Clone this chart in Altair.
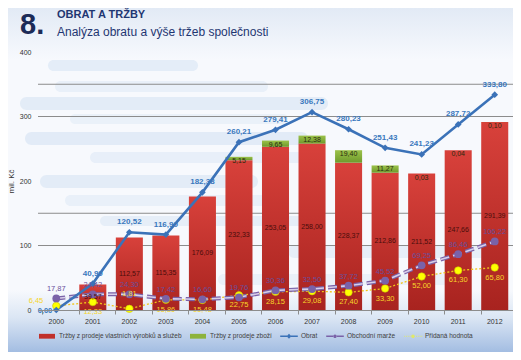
import altair as alt
import pandas as pd

# ---------------- data ----------------
roky = ["2000", "2001", "2002", "2003", "2004", "2005", "2006",
        "2007", "2008", "2009", "2010", "2011", "2012"]
trzby_vyrobky = [0.00, 39.57, 112.57, 115.35, 176.09, 232.33, 253.05,
                 258.00, 228.37, 212.86, 211.52, 247.66, 291.39]
trzby_zbozi = [0.00, 0.00, 0.00, 0.00, 0.00, 5.15, 9.65,
               12.38, 19.40, 11.27, 0.03, 0.04, 0.10]
obrat = [0.00, 40.99, 120.52, 116.90, 182.38, 260.21, 279.41,
         306.75, 280.23, 251.43, 241.23, 287.72, 333.80]
marze = [17.87, 24.42, 24.30, 17.42, 16.60, 19.76, 30.36,
         32.50, 37.72, 45.52, 69.25, 86.46, 106.22]
hodnota = [6.45, 12.33, 1.81, 15.86, 15.48, 22.75, 28.15,
           29.08, 27.40, 33.30, 52.00, 61.30, 65.80]
y_ticks = [0, 50, 100, 150, 200, 250, 300, 350, 400]
grid_lines = [100, 150, 300, 350]

serie = ["Tržby z prodeje vlastních výrobků a služeb", "Tržby z prodeje zboží",
         "Obrat", "Obchodní marže", "Přidaná hodnota"]
barvy = ["#c0302b", "#8db33c", "#3b72b8", "#7a62a8", "#dfe86a"]

df = pd.DataFrame({
    "rok": roky, "vyrobky": trzby_vyrobky, "zbozi": trzby_zbozi,
    "obrat": obrat, "marze": marze, "hodnota": hodnota,
})

NARROW = "'Liberation Sans Narrow', 'Liberation Sans', sans-serif"


def cz(field):
    return f"replace(format(datum.{field}, '.2f'), '.', ',')"


# ---------------- legend symbol paths ----------------
def seg(a, b, h):
    return f"M{a},{-h}H{b}V{h}H{a}Z"


rect_sym = seg(-2, 2, 0.6)
line_l = seg(-2.2, -0.5, 0.16)
line_r = seg(0.5, 2.2, 0.16)
diamond = "M-0.6,0L0,-0.6L0.6,0L0,0.6Z"
circle = "M-0.45,0A0.45,0.45 0 1,0 0.45,0A0.45,0.45 0 1,0 -0.45,0Z"
dots = " ".join(seg(round(-2.2 + i * 0.45, 2), round(-2.2 + i * 0.45 + 0.22, 2), 0.12)
                for i in range(4))
dots += " " + " ".join(seg(round(0.75 + i * 0.45, 2), round(0.75 + i * 0.45 + 0.22, 2), 0.12)
                       for i in range(4))
symboly = [rect_sym, rect_sym, f"{line_l} {line_r} {diamond}",
           f"{line_l} {line_r} {circle}", f"{dots} {circle}"]

# ---------------- encodings ----------------
x_enc = alt.X("rok:N", sort=roky, title=None,
              scale=alt.Scale(paddingInner=0.26, paddingOuter=0.13),
              axis=alt.Axis(labelAngle=0, labelFontSize=7, labelColor="#333333",
                            bandPosition=0, tickSize=4, tickColor="#8c8c8c",
                            domainColor="#8c8c8c", labelPadding=3, zindex=1,
                            labelFont="Liberation Sans"))
y_scale = alt.Scale(domain=[0, 400], nice=False)
y_axis = alt.Axis(values=y_ticks, grid=False, domain=False, ticks=False,
                  labelFontSize=7, labelColor="#333333", zindex=1,
                  labelPadding=7, title="mil. Kč", titleFontSize=8,
                  titleFontWeight="normal", titleColor="#333333", titlePadding=4)

base = alt.Chart(df).encode(x=x_enc)
one = alt.Data(values=[{"a": 1}])

# background
bg = alt.Chart(one).mark_rect(
    color=alt.Gradient(gradient="linear", x1=0, y1=0, x2=0, y2=1, stops=[
        alt.GradientStop(offset=0, color="#e2eaf5"),
        alt.GradientStop(offset=0.15, color="#f7f9fd"),
        alt.GradientStop(offset=0.82, color="#f7f9fd"),
        alt.GradientStop(offset=0.9, color="#dbe6f4"),
        alt.GradientStop(offset=1, color="#a3bde2"),
    ])
).encode(x=alt.value(-30), x2=alt.value(475), y=alt.value(-44), y2=alt.value(300))

# decorative light-blue stripes (background ornament): x1, x2, y_top, height, colour
stripe_specs = [
    (10, 160, 8, 11, "#e4edf8"),
    (17, 230, 29, 11, "#e9f0f9"),
    (-18, 290, 45, 13, "#e3ecf7"),
    (32, 250, 62, 10, "#eaf1f9"),
    (-13, 270, 80, 13, "#e2ebf7"),
    (52, 270, 100, 11, "#e8eff9"),
    (2, 220, 123, 13, "#e3ecf7"),
    (27, 240, 143, 11, "#e9f0f9"),
    (62, 270, 164, 10, "#e6eef8"),
    (250, 470, 193, 13, "#e7eef8"),
    (180, 420, 222, 11, "#eaf1f9"),
]
stripes = [
    alt.Chart(one).mark_rect(color=c, cornerRadius=h / 2).encode(
        x=alt.value(x1), x2=alt.value(x2), y=alt.value(y0), y2=alt.value(y0 + h))
    for (x1, x2, y0, h, c) in stripe_specs
]

grid = alt.Chart(pd.DataFrame({"g": grid_lines})).mark_rule(
    color="#8c8c8c", strokeWidth=1).encode(y=alt.Y("g:Q", scale=y_scale))

red_bars = base.mark_bar(
    color=alt.Gradient(gradient="linear", x1=0, y1=0, x2=0, y2=1, stops=[
        alt.GradientStop(offset=0, color="#d8413b"),
        alt.GradientStop(offset=1, color="#a8231f"),
    ])
).encode(y=alt.Y("vyrobky:Q", scale=y_scale, axis=y_axis))

green_bars = base.transform_calculate(top="datum.vyrobky + datum.zbozi").mark_bar(
    color=alt.Gradient(gradient="linear", x1=0, y1=0, x2=0, y2=1, stops=[
        alt.GradientStop(offset=0, color="#9cc24a"),
        alt.GradientStop(offset=1, color="#6e9a2c"),
    ])
).encode(y="top:Q", y2="vyrobky:Q")

yellow_line = base.mark_line(color="#f0c419", strokeWidth=1.3, strokeDash=[2, 2]).encode(y="hodnota:Q")
purple_line_o = base.mark_line(color="#7a62a8", strokeWidth=4, strokeDash=[9, 4]).encode(y="marze:Q")
purple_line_i = base.mark_line(color="#d7cfe9", strokeWidth=1.6, strokeDash=[9, 4]).encode(y="marze:Q")
blue_line = base.mark_line(color="#3b72b8", strokeWidth=2.6).encode(y="obrat:Q")

yellow_pts = base.mark_point(filled=True, shape="circle", size=55, color="#ffff00",
                             stroke="#c8c800", strokeWidth=0.6, opacity=1).encode(y="hodnota:Q")
purple_pts = base.mark_point(filled=True, shape="circle", size=60, color="#7a62a8",
                             opacity=1).encode(y="marze:Q")
blue_pts = base.mark_point(filled=True, shape="diamond", size=45, color="#3b72b8",
                           opacity=1).encode(y="obrat:Q")

red_lbl = base.transform_filter("datum.vyrobky > 0").transform_calculate(
    mid="datum.vyrobky / 2", t=cz("vyrobky")
).mark_text(fontSize=7, color="#4a0d0b", font=NARROW).encode(y="mid:Q", text="t:N")

green_lbl = base.transform_filter("datum.zbozi > 0").transform_calculate(
    top="datum.vyrobky + datum.zbozi", t=cz("zbozi")
).mark_text(fontSize=7, color="#2a2a10", dy=4, font=NARROW).encode(y="top:Q", text="t:N")

first = "datum.rok == '2000'"
rest = "datum.rok != '2000'"
low = "datum.rok != '2000' && datum.hodnota < 5"
normal = "datum.rok != '2000' && datum.hodnota >= 5"

blue_lbl = base.transform_filter(rest).transform_calculate(t=cz("obrat")).mark_text(
    fontSize=8, fontWeight="bold", color="#3a78bd", dy=-10).encode(y="obrat:Q", text="t:N")
blue_lbl0 = base.transform_filter(first).transform_calculate(t=cz("obrat")).mark_text(
    fontSize=7.5, fontWeight="bold", color="#3a78bd", align="right", dx=-4, dy=1
).encode(y="obrat:Q", text="t:N")
purple_lbl = base.transform_calculate(t=cz("marze")).mark_text(
    fontSize=7.5, color="#6a4f9c", dy=-9, font=NARROW).encode(y="marze:Q", text="t:N")
yellow_lbl = base.transform_filter(normal).transform_calculate(t=cz("hodnota")).mark_text(
    fontSize=7.5, color="#f7d52a", dy=10, font=NARROW).encode(y="hodnota:Q", text="t:N")
yellow_lbl_low = base.transform_filter(low).transform_calculate(t=cz("hodnota")).mark_text(
    fontSize=7.5, color="#f7d52a", dy=-15, font=NARROW).encode(y="hodnota:Q", text="t:N")
yellow_lbl0 = base.transform_filter(first).transform_calculate(t=cz("hodnota")).mark_text(
    fontSize=7.5, color="#f7d52a", align="right", dx=-13, dy=-5, font=NARROW
).encode(y="hodnota:Q", text="t:N")

# legend (carried by an invisible layer)
leg = alt.Legend(title=None, orient="none", legendX=5, legendY=280, direction="horizontal",
                 columns=5, labelFontSize=6.5, labelColor="#404040", labelFont=NARROW,
                 symbolSize=64, labelOffset=8, columnPadding=8, symbolOpacity=1,
                 symbolStrokeWidth=0)
legend_layer = alt.Chart(pd.DataFrame({"serie": serie})).mark_point(
    filled=True, opacity=0
).encode(
    color=alt.Color("serie:N", scale=alt.Scale(domain=serie, range=barvy), legend=leg),
    shape=alt.Shape("serie:N", scale=alt.Scale(domain=serie, range=symboly), legend=leg),
)

# titles
t_num = alt.Chart(one).mark_text(text="8.", fontSize=29, fontWeight="bold", color="#1c2b57",
                                 align="left", baseline="alphabetic").encode(
    x=alt.value(-18), y=alt.value(-18))
t_main = alt.Chart(one).mark_text(text="OBRAT A TRŽBY", fontSize=11, fontWeight="bold",
                                  color="#1f3672", align="left", baseline="alphabetic").encode(
    x=alt.value(19), y=alt.value(-34))
t_sub = alt.Chart(one).mark_text(text="Analýza obratu a výše tržeb společnosti", fontSize=12,
                                 color="#1f3672", align="left", baseline="alphabetic").encode(
    x=alt.value(19), y=alt.value(-16))

chart = alt.layer(
    bg, *stripes, grid, red_bars, green_bars, yellow_line, purple_line_o, purple_line_i,
    blue_line, yellow_pts, purple_pts, blue_pts,
    red_lbl, green_lbl, blue_lbl, blue_lbl0, purple_lbl, yellow_lbl, yellow_lbl_low,
    yellow_lbl0, legend_layer, t_num, t_main, t_sub,
).properties(
    width=475, height=258,
    autosize=alt.AutoSizeParams(type="none"),
    padding={"left": 30, "top": 44, "right": 0, "bottom": 42},
).configure(font="Liberation Sans").configure_view(stroke=None)

chart.save("out.html", embed_options={"renderer": "svg", "actions": False})
